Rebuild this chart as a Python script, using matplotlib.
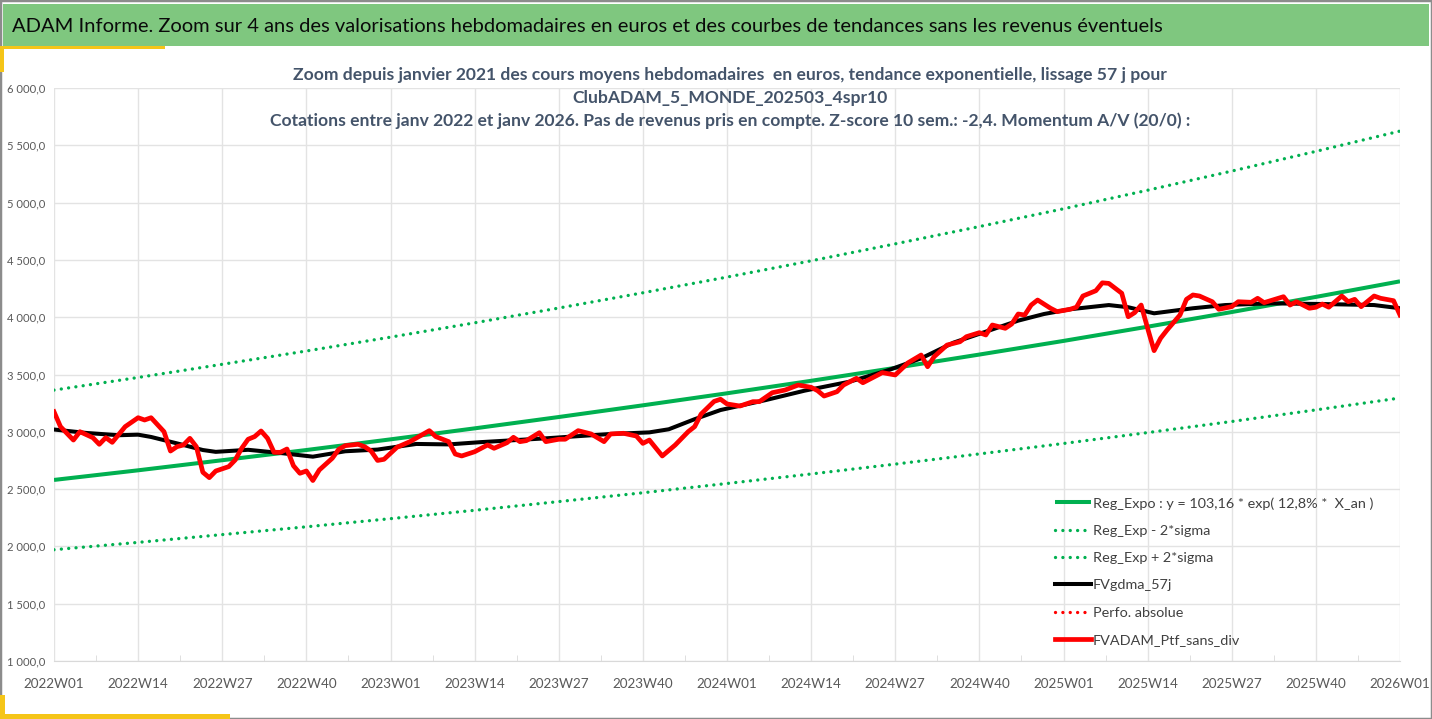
import matplotlib
matplotlib.use("Agg")
import matplotlib.pyplot as plt
from matplotlib.ticker import FuncFormatter, FixedLocator
from matplotlib.patches import Rectangle
import numpy as np

plt.rcParams['font.family'] = ['Lato', 'DejaVu Sans']

# ---- data (week index 0 = 2022W01, 208 = 2026W01) ----
tick_labels = ['2022W01', '2022W14', '2022W27', '2022W40',
               '2023W01', '2023W14', '2023W27', '2023W40',
               '2024W01', '2024W14', '2024W27', '2024W40',
               '2025W01', '2025W14', '2025W27', '2025W40', '2026W01']

# trend and bands, values at each labelled week
reg_weeks = [0, 13, 26, 39, 52, 65, 78, 91, 104, 117, 130, 143, 156, 169, 182, 195, 208]
reg_expo = [2580, 2664, 2752, 2841, 2934, 3030, 3129, 3231, 3336, 3445, 3558, 3674,
            3793, 3917, 4045, 4177, 4313]
reg_minus = [1971, 2035, 2103, 2171, 2242, 2315, 2391, 2468, 2549, 2632, 2718, 2807,
             2898, 2993, 3090, 3191, 3295]
reg_plus = [3364, 3474, 3589, 3705, 3826, 3951, 4080, 4213, 4350, 4492, 4640, 4791,
            4946, 5108, 5275, 5447, 5624]

# FVgdma_57j (black)
gdma_weeks = [0, 5, 10, 13, 15, 20, 23, 25, 30, 35, 40, 45, 50, 56, 61, 66, 76, 86, 92,
              95, 99, 103, 110, 116, 123, 129, 134, 139, 144, 149, 153, 157, 163, 166,
              170, 176, 181, 188, 196, 204, 208]
gdma_vals = [3020, 2990, 2970, 2975, 2955, 2885, 2841, 2825, 2843, 2815, 2783, 2830, 2845,
             2894, 2890, 2910, 2943, 2981, 2995, 3022, 3110, 3190, 3277, 3359, 3438, 3539,
             3641, 3778, 3874, 3970, 4028, 4069, 4106, 4087, 4034, 4078, 4106, 4121, 4115,
             4106, 4078]

# FVADAM_Ptf_sans_div (red)
ptf_weeks = [0, 1, 3, 4, 6, 7, 8, 9, 11, 13, 14, 15, 17, 18, 19, 20, 21, 22, 23, 24, 25,
             27, 28, 29, 30, 31, 32, 33, 34, 35, 36, 37, 38, 39, 40, 41, 43, 44, 45, 47,
             48, 49, 50, 51, 52, 53, 55, 58, 59, 61, 62, 63, 65, 67, 68, 70, 71, 72, 73,
             75, 76, 78, 79, 81, 83, 85, 86, 88, 90, 91, 92, 94, 96, 98, 99, 100, 102,
             103, 104, 106, 108, 109, 111, 113, 115, 117, 118, 119, 121, 122, 124, 125,
             127, 128, 130, 132, 134, 135, 136, 138, 140, 141, 143, 144, 145, 147, 148,
             149, 150, 151, 152, 154, 155, 157, 158, 159, 161, 162, 163, 165, 166, 167,
             168, 169, 170, 171, 172, 174, 175, 176, 177, 179, 180, 182, 183, 185, 186,
             187, 188, 190, 191, 192, 194, 195, 196, 197, 199, 200, 201, 202, 204, 205,
             207, 208]
ptf_vals = [3175, 3045, 2928, 3001, 2949, 2891, 2949, 2908, 3045, 3123, 3103, 3123, 3001,
            2832, 2870, 2885, 2943, 2870, 2647, 2600, 2658, 2696, 2754, 2856, 2935, 2958,
            3007, 2943, 2821, 2821, 2850, 2704, 2638, 2658, 2575, 2667, 2769, 2847, 2879,
            2891, 2870, 2832, 2750, 2760, 2812, 2865, 2914, 3010, 2958, 2914, 2806, 2789,
            2826, 2885, 2856, 2905, 2952, 2914, 2923, 2992, 2914, 2935, 2935, 3010, 2981,
            2914, 2981, 2987, 2963, 2899, 2928, 2789, 2885, 3001, 3045, 3155, 3265, 3284,
            3243, 3225, 3263, 3263, 3341, 3365, 3408, 3388, 3359, 3312, 3350, 3408, 3467,
            3428, 3487, 3516, 3496, 3603, 3670, 3568, 3655, 3757, 3786, 3830, 3865, 3845,
            3932, 3903, 3941, 4028, 4019, 4106, 4150, 4078, 4049, 4069, 4087, 4185, 4231,
            4300, 4295, 4209, 4004, 4040, 4106, 3903, 3708, 3816, 3888, 4019, 4156, 4194,
            4185, 4135, 4069, 4092, 4135, 4130, 4165, 4127, 4144, 4179, 4106, 4135, 4078,
            4087, 4115, 4087, 4185, 4135, 4156, 4092, 4185, 4165, 4144, 4019]

GREEN = '#00B050'
RED = '#FF0000'
TXT = '#595959'
dots = (0, (0.01, 2.2))

fig = plt.figure(figsize=(14.32, 7.19), dpi=100)

# header band and frame
fig.patches.append(Rectangle((0, 0), 1, 1, transform=fig.transFigure, fill=False,
                             edgecolor='#8C8C8C', linewidth=2.5))
fig.patches.append(Rectangle((3 / 1432, 1 - 46 / 719), 1426 / 1432, 42 / 719,
                             transform=fig.transFigure, facecolor='#7FC77F',
                             edgecolor='none'))
fig.patches.append(Rectangle((0, 1 - 49 / 719), 165 / 1432, 3 / 719,
                             transform=fig.transFigure, facecolor='#F5C518', edgecolor='none'))
fig.patches.append(Rectangle((0, 1 - 72 / 719), 4 / 1432, 25 / 719,
                             transform=fig.transFigure, facecolor='#F5C518', edgecolor='none'))
fig.patches.append(Rectangle((0, 0), 230 / 1432, 5 / 719,
                             transform=fig.transFigure, facecolor='#F5C518', edgecolor='none'))
fig.patches.append(Rectangle((0, 0), 5 / 1432, 24 / 719,
                             transform=fig.transFigure, facecolor='#F5C518', edgecolor='none'))

fig.text(12 / 1432, 1 - 26 / 719,
         "ADAM Informe. Zoom sur 4 ans des valorisations hebdomadaires en euros et des "
         "courbes de tendances sans les revenus éventuels",
         fontsize=14.5, va='center', ha='left', color='#0A0A0A')

title_lines = ["Zoom depuis janvier 2021 des cours moyens hebdomadaires  en euros, tendance exponentielle, lissage 57 j pour",
               "ClubADAM_5_MONDE_202503_4spr10",
               "Cotations entre janv 2022 et janv 2026. Pas de revenus pris en compte. Z-score 10 sem.: -2,4. Momentum A/V (20/0) :"]
for i, line in enumerate(title_lines):
    fig.text(730 / 1432, 1 - (75 + 23 * i) / 719, line, fontsize=12.6, fontweight='bold',
             color='#44546A', ha='center', va='center')

ax = fig.add_axes([54 / 1432, 1 - 661 / 719, 1346 / 1432, 573 / 719])
ax.set_facecolor('none')

ax.plot(reg_weeks, reg_expo, color=GREEN, lw=2.9, solid_capstyle='butt',
        label='Reg_Expo : y = 103,16 * exp( 12,8% *  X_an )')
ax.plot(reg_weeks, reg_minus, color=GREEN, lw=2.4, linestyle=dots, dash_capstyle='round',
        label='Reg_Exp - 2*sigma')
ax.plot(reg_weeks, reg_plus, color=GREEN, lw=2.4, linestyle=dots, dash_capstyle='round',
        label='Reg_Exp + 2*sigma')
ax.plot(gdma_weeks, gdma_vals, color='black', lw=2.9, label='FVgdma_57j')
ax.plot([], [], color=RED, lw=2.4, linestyle=dots, dash_capstyle='round',
        label='Perfo. absolue')
ax.plot(ptf_weeks, ptf_vals, color=RED, lw=3.4, solid_joinstyle='round',
        label='FVADAM_Ptf_sans_div')

ax.set_xlim(0, 208)
ax.set_ylim(1000, 6000)
ax.set_yticks(np.arange(1000, 6001, 500))
ax.yaxis.set_major_formatter(FuncFormatter(
    lambda v, p: f"{v:,.1f}".replace(',', ' ').replace('.', ',')))
ax.set_xticks(reg_weeks)
ax.set_xticklabels(tick_labels)
ax.xaxis.set_minor_locator(FixedLocator([w + 6.5 for w in reg_weeks[:-1]]))
ax.grid(True, which='major', color='#E3E3E3', lw=1.0)
ax.set_axisbelow(True)
for s in ['top', 'right', 'left']:
    ax.spines[s].set_visible(False)
ax.spines['bottom'].set_color('#D9D9D9')
ax.tick_params(axis='y', length=0, labelsize=8.1, labelcolor=TXT, pad=6)
ax.tick_params(axis='x', which='major', length=0, labelsize=9.7, labelcolor=TXT, pad=12)
ax.tick_params(axis='x', which='minor', length=4, direction='in', color='#D9D9D9')

leg = fig.legend(loc='upper left', bbox_to_anchor=(1055 / 1432, 1 - 497 / 719),
                 frameon=False, fontsize=10.4, handlelength=2.5, handletextpad=0.1,
                 labelspacing=1.05, borderpad=0, borderaxespad=0)
for t in leg.get_texts():
    t.set_color('#404040')

fig.savefig('out.png', dpi=100)
